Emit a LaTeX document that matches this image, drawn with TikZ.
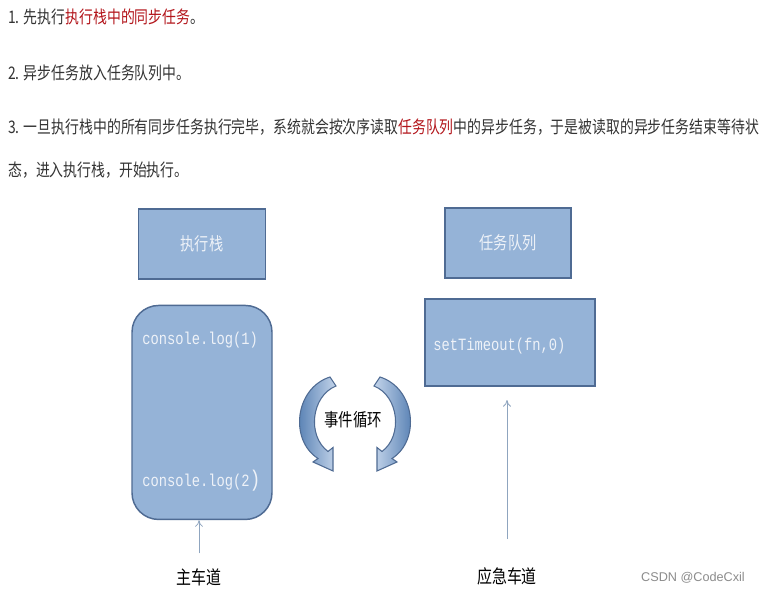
\documentclass[tikz,border=0pt]{standalone}
\usepackage{fontspec}
\setmainfont[FakeStretch=0.8]{Noto Sans CJK SC}
\newfontfamily\codefont[FakeStretch=0.8]{Liberation Mono}
\newfontfamily\markfont{Liberation Sans}
\usetikzlibrary{arrows.meta, positioning}

\definecolor{boxfill}{HTML}{95B3D7}
\definecolor{boxline}{HTML}{4F6B93}
\definecolor{boxtext}{HTML}{EEF2F8}
\definecolor{bodytext}{HTML}{333333}
\definecolor{hilite}{HTML}{B3151B}
\definecolor{laneline}{HTML}{8FA5BF}
\definecolor{loopdark}{HTML}{416FA8}
\definecolor{looplight}{HTML}{C3D4EA}

\begin{document}
\begin{tikzpicture}[
                x=0.75pt, y=-0.75pt,
                line/.style={
                    font=\fontsize{13pt}{16pt}\selectfont,
                    text=bodytext,
                    anchor=west,
                    inner sep=0pt
                },
                box/.style={
                    draw=boxline,
                    fill=boxfill,
                    line width=1.1pt,
                    text=boxtext,
                    font=\fontsize{13.3pt}{15pt}\selectfont,
                    align=center
                },
                code/.style={
                    font=\codefont\fontsize{12.9pt}{14pt}\selectfont,
                    text=boxtext,
                    anchor=west,
                    inner sep=0pt
                },
                lane/.style={
                    font=\fontsize{14pt}{16pt}\selectfont,
                    text=black,
                    inner sep=0pt
                },
                arr/.style={
                    -{To[length=5pt,width=6pt]},
                    draw=laneline,
                    line width=0.6pt
                },
                looparrow/.style={
                    draw=boxline,
                    line width=0.8pt
                }
            ]

                \useasboundingbox[fill=white] (0,0) rectangle (761,591);

                % steps
                \node[line] (step1) at (8,17) {1. 先执行\textcolor{hilite}{执行栈中的同步任务}。};
                \node[line] (step2) at (8,73) {2. 异步任务放入任务队列中。};
                \node[line] (step3) at (8,127) {3. 一旦执行栈中的所有同步任务执行完毕，系统就会按次序读取\textcolor{hilite}{任务队列}中的异步任务，于是被读取的异步任务结束等待状};
                \node[line] (step4) at (8,170) {态，进入执行栈，开始执行。};

                % the two columns
                \node[box, minimum width=95pt, minimum height=52.5pt] (exec) at (202,244) {执行栈};
                \node[box, minimum width=105pt, minimum height=160.5pt, rounded corners=20pt,
                      below=18.75pt of exec] (stackbody) {};
                \node[code] (code1) at (142,340) {console.log(1)};
                \node[code] (code2) at (142,481) {console.log(2{\fontsize{17pt}{17pt}\selectfont)}};

                \node[box, minimum width=94.5pt, minimum height=52.5pt] (queue) at (508,243) {任务队列};
                \node[box, minimum width=127.5pt, minimum height=65.25pt] (queuebody) at (510,342.5) {};
                \node[code] (code3) at (433,346) {setTimeout(fn,0)};

                % event loop
                \node[lane, font=\fontsize{13.5pt}{15pt}\selectfont] (loop) at (353,420) {事件循环};
                \shade[looparrow, left color=loopdark, right color=looplight]
                    (330,377) .. controls (295,388) and (289,440) .. (318,458.5)
                    -- (313,462) -- (333,471) -- (333,447.5) -- (328,451.5)
                    .. controls (307,436) and (311,396) .. (336,386) -- cycle;
                \shade[looparrow, left color=looplight, right color=loopdark]
                    (380,377) .. controls (415,388) and (421,440) .. (392,458.5)
                    -- (397,462) -- (377,471) -- (377,447.5) -- (382,451.5)
                    .. controls (403,436) and (399,396) .. (374,386) -- cycle;

                % lanes
                \node[lane] (mainlane) at (199,577) {主车道};
                \node[lane] (urgentlane) at (507,576) {应急车道};
                \draw[arr, shorten <=11pt] (mainlane.north) -- (mainlane.north |- stackbody.south);
                \draw[arr, shorten <=21pt, shorten >=10pt] (urgentlane.north) -- (urgentlane.north |- queuebody.south);

                \node[font=\markfont\fontsize{9.5pt}{11pt}\selectfont, text=black!45] (mark) at (693,578) {CSDN @CodeCxil};

            \end{tikzpicture}
\end{document}
